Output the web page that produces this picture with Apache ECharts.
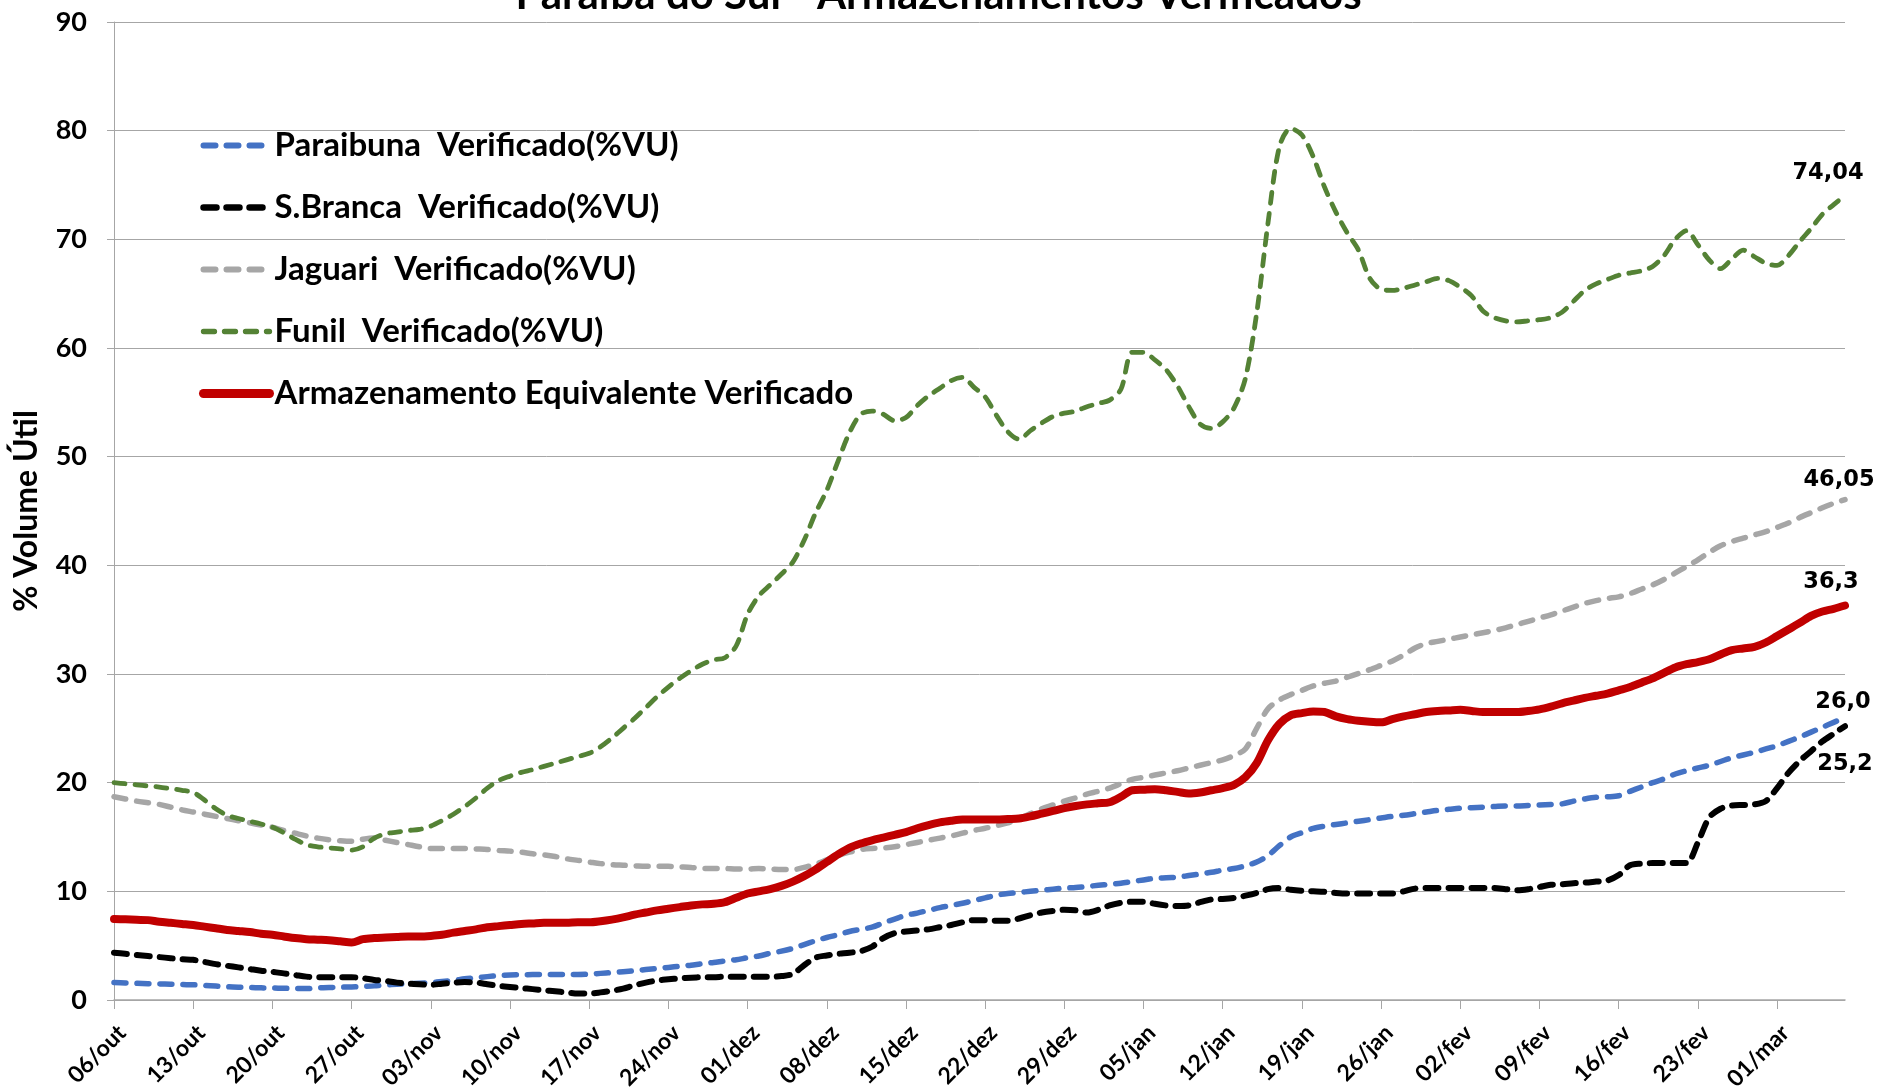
<!DOCTYPE html>
<html>
<head>
<meta charset="utf-8">
<script src="https://cdn.jsdelivr.net/npm/echarts@6/dist/echarts.min.js"></script>
<style>
html,body{margin:0;padding:0;background:#fff;}
#chart{width:1877px;height:1087px;}
</style>
</head>
<body>
<div id="chart"></div>
<script>
// ---- Data (daily, 06/out/2015 .. 07/mar/2016) ----
const startDate = [2015, 9, 6]; // year, month index (0-based), day
const nDays = 154;
const monthNames = ['jan','fev','mar','abr','mai','jun','jul','ago','set','out','nov','dez'];

const seriesNames = [
  'Paraibuna  Verificado(%VU)',
  'S.Branca  Verificado(%VU)',
  'Jaguari  Verificado(%VU)',
  'Funil  Verificado(%VU)',
  'Armazenamento Equivalente Verificado'
];

const paraibuna = [
  1.6, 1.57, 1.54, 1.5, 1.48, 1.45, 1.42,
  1.4, 1.35, 1.28, 1.22, 1.18, 1.15, 1.12,
  1.1, 1.08, 1.05, 1.05, 1.12, 1.15, 1.18,
  1.2, 1.25, 1.3, 1.38, 1.45, 1.5, 1.55,
  1.6, 1.7, 1.8, 1.95, 2.05, 2.15, 2.25,
  2.3, 2.32, 2.34, 2.35, 2.35, 2.35, 2.35,
  2.38, 2.45, 2.52, 2.6, 2.7, 2.8, 2.9,
  3.0, 3.1, 3.2, 3.35, 3.45, 3.6, 3.7,
  3.9, 4.05, 4.3, 4.5, 4.75, 5.1, 5.45,
  5.75, 6.0, 6.3, 6.5, 6.7, 7.1, 7.45,
  7.8, 8.0, 8.25, 8.5, 8.7, 8.9, 9.15,
  9.4, 9.65, 9.8, 9.9, 10.0, 10.1, 10.2,
  10.3, 10.35, 10.45, 10.55, 10.65, 10.75, 10.9,
  11.05, 11.2, 11.25, 11.3, 11.45, 11.6, 11.75,
  11.95, 12.1, 12.35, 12.7, 13.3, 14.2, 15.0,
  15.4, 15.8, 16.0, 16.15, 16.3, 16.45, 16.6,
  16.75, 16.9, 17.0, 17.15, 17.3, 17.45, 17.55,
  17.65, 17.7, 17.75, 17.8, 17.85, 17.85, 17.9,
  17.95, 18.0, 18.05, 18.3, 18.5, 18.65, 18.7,
  18.8, 19.2, 19.6, 20.0, 20.35, 20.8, 21.1,
  21.35, 21.6, 21.95, 22.3, 22.55, 22.8, 23.1,
  23.4, 23.8, 24.2, 24.65, 25.1, 25.55, 26.0
];

const sBranca = [
  4.35, 4.25, 4.15, 4.05, 3.95, 3.85, 3.75,
  3.7, 3.5, 3.3, 3.15, 3.0, 2.85, 2.7,
  2.6, 2.45, 2.3, 2.15, 2.1, 2.1, 2.1,
  2.1, 2.0, 1.85, 1.75, 1.6, 1.5, 1.45,
  1.4, 1.5, 1.6, 1.65, 1.6, 1.45, 1.3,
  1.2, 1.1, 1.0, 0.9, 0.8, 0.7, 0.6,
  0.6, 0.7, 0.85, 1.05, 1.35, 1.6, 1.8,
  1.9, 2.0, 2.05, 2.1, 2.1, 2.15, 2.15,
  2.15, 2.15, 2.15, 2.2, 2.4, 3.2, 3.9,
  4.1, 4.25, 4.35, 4.5, 4.9, 5.7, 6.15,
  6.3, 6.4, 6.5, 6.7, 6.9, 7.15, 7.35,
  7.35, 7.3, 7.3, 7.5, 7.8, 8.05, 8.2,
  8.3, 8.25, 8.05, 8.3, 8.7, 8.95, 9.05,
  9.05, 8.85, 8.7, 8.65, 8.7, 9.0, 9.25,
  9.3, 9.4, 9.6, 9.85, 10.2, 10.3, 10.15,
  10.05, 10.0, 9.95, 9.85, 9.8, 9.8, 9.8,
  9.8, 9.8, 10.0, 10.25, 10.3, 10.3, 10.3,
  10.3, 10.3, 10.3, 10.3, 10.2, 10.1, 10.2,
  10.4, 10.6, 10.65, 10.75, 10.8, 10.9, 11.0,
  11.5, 12.4, 12.55, 12.6, 12.6, 12.6, 12.6,
  14.5, 16.8, 17.6, 17.9, 17.95, 18.0, 18.3,
  19.5, 20.9, 22.0, 22.9, 23.8, 24.5, 25.2
];

const jaguari = [
  18.7, 18.5, 18.3, 18.15, 18.0, 17.75, 17.5,
  17.3, 17.1, 16.9, 16.7, 16.5, 16.3, 16.1,
  15.9, 15.6, 15.35, 15.1, 14.9, 14.75, 14.65,
  14.6, 14.8, 14.9, 14.7, 14.5, 14.3, 14.1,
  13.95, 13.95, 13.95, 13.95, 13.9, 13.85, 13.75,
  13.7, 13.6, 13.45, 13.35, 13.2, 13.0, 12.85,
  12.7, 12.55, 12.45, 12.4, 12.35, 12.3, 12.3,
  12.3, 12.25, 12.2, 12.1, 12.1, 12.1, 12.05,
  12.05, 12.1, 12.05, 12.0, 12.0, 12.2, 12.5,
  12.9, 13.3, 13.6, 13.85, 13.95, 14.0, 14.1,
  14.3, 14.5, 14.7, 14.9, 15.1, 15.35, 15.6,
  15.8, 16.05, 16.3, 16.7, 17.15, 17.6, 17.95,
  18.3, 18.6, 18.95, 19.2, 19.5, 19.9, 20.3,
  20.5, 20.7, 20.9, 21.1, 21.35, 21.6, 21.85,
  22.1, 22.5, 23.1, 25.0, 26.8, 27.6, 28.1,
  28.5, 28.9, 29.15, 29.35, 29.7, 30.05, 30.4,
  30.8, 31.2, 31.75, 32.4, 32.8, 33.0, 33.2,
  33.4, 33.6, 33.8, 34.0, 34.25, 34.55, 34.85,
  35.15, 35.45, 35.8, 36.15, 36.5, 36.75, 36.95,
  37.1, 37.4, 37.8, 38.2, 38.7, 39.3, 39.9,
  40.5, 41.2, 41.8, 42.2, 42.5, 42.8, 43.1,
  43.5, 43.9, 44.4, 44.85, 45.3, 45.7, 46.05
];

const funil = [
  20.0, 19.9, 19.8, 19.7, 19.6, 19.45, 19.3,
  19.1, 18.4, 17.6, 17.0, 16.7, 16.45, 16.2,
  15.9, 15.4, 14.8, 14.3, 14.1, 14.0, 13.9,
  13.8, 14.1, 14.9, 15.3, 15.45, 15.6, 15.7,
  16.0, 16.5, 17.1, 17.8, 18.6, 19.5, 20.2,
  20.6, 20.95, 21.2, 21.5, 21.8, 22.1, 22.4,
  22.7, 23.3, 24.1, 25.0, 25.9, 26.9, 27.9,
  28.8, 29.6, 30.3, 30.9, 31.3, 31.5, 32.6,
  35.5, 37.2, 38.2, 39.2, 40.3, 42.3, 44.8,
  46.9, 49.6, 52.2, 53.9, 54.2, 53.9, 53.3,
  53.6, 54.7, 55.6, 56.3, 57.0, 57.3, 56.4,
  55.5, 53.8, 52.3, 51.6, 52.4, 53.1, 53.7,
  54.0, 54.2, 54.6, 54.9, 55.2, 56.2, 59.6,
  59.6, 58.9, 58.0, 56.5, 54.6, 53.0, 52.6,
  53.2, 54.5, 57.2, 63.2, 71.5, 78.5, 80.2,
  79.6, 77.6, 74.8, 72.5, 70.6, 69.0, 66.4,
  65.4, 65.3, 65.5, 65.8, 66.1, 66.4, 66.2,
  65.6, 64.8, 63.4, 62.8, 62.5, 62.4, 62.5,
  62.6, 62.8, 63.3, 64.3, 65.3, 65.9, 66.3,
  66.7, 66.9, 67.1, 67.5, 68.5, 70.0, 70.8,
  69.5, 68.1, 67.3, 68.2, 69.0, 68.4, 67.8,
  67.6, 68.5, 69.8, 71.0, 72.3, 73.2, 74.04
];

const armazenamento = [
  7.45, 7.42, 7.38, 7.35, 7.2, 7.1, 7.0,
  6.9, 6.75, 6.6, 6.45, 6.35, 6.25, 6.1,
  6.0, 5.85, 5.7, 5.6, 5.55, 5.5, 5.4,
  5.3, 5.6, 5.7, 5.75, 5.8, 5.85, 5.85,
  5.9, 6.0, 6.2, 6.35, 6.5, 6.7, 6.8,
  6.9, 7.0, 7.05, 7.1, 7.1, 7.1, 7.15,
  7.15, 7.25, 7.4, 7.6, 7.85, 8.05, 8.25,
  8.4, 8.55, 8.7, 8.8, 8.85, 9.0, 9.4,
  9.8, 10.0, 10.2, 10.5, 10.9, 11.4, 12.0,
  12.7, 13.4, 14.0, 14.4, 14.7, 14.95, 15.2,
  15.45, 15.8, 16.1, 16.35, 16.5, 16.6, 16.6,
  16.6, 16.6, 16.65, 16.7, 16.9, 17.15, 17.4,
  17.65, 17.85, 18.0, 18.1, 18.2, 18.7, 19.3,
  19.35, 19.4, 19.3, 19.15, 19.0, 19.1, 19.3,
  19.5, 19.8, 20.5, 21.8, 23.9, 25.4, 26.2,
  26.4, 26.55, 26.5, 26.1, 25.85, 25.7, 25.6,
  25.55, 25.85, 26.1, 26.3, 26.5, 26.6, 26.65,
  26.7, 26.6, 26.5, 26.5, 26.5, 26.5, 26.6,
  26.75, 27.0, 27.3, 27.55, 27.8, 28.0, 28.2,
  28.5, 28.8, 29.2, 29.6, 30.1, 30.6, 30.9,
  31.1, 31.35, 31.8, 32.2, 32.35, 32.5, 32.9,
  33.5, 34.1, 34.7, 35.35, 35.75, 36.0, 36.3
];

const endLabels = ['26,0', '25,2', '46,05', '74,04', '36,3'];

function makeCategories() {
  const out = [];
  for (let i = 0; i < nDays; i++) {
    const d = new Date(Date.UTC(startDate[0], startDate[1], startDate[2] + i));
    const dd = String(d.getUTCDate()).padStart(2, '0');
    out.push(dd + '/' + monthNames[d.getUTCMonth()]);
  }
  return out;
}
const categories = makeCategories();

// ---- Styles ----
const colors = ['#4472C4', '#000000', '#A6A6A6', '#548235', '#C00000'];
const widths = [5.5, 6, 5.5, 4.8, 8];
const dashes = [[12, 11], [13, 10], [12, 11], [11, 10], 'solid'];
const labelPos = [
  { position: 'top', offset: [-2, 2] },
  { position: 'bottom', offset: [0, 20] },
  { position: 'top', offset: [-6, -2] },
  { position: 'top', offset: [-17, -5] },
  { position: 'top', offset: [-14, -6] }
];
const allData = [paraibuna, sBranca, jaguari, funil, armazenamento];

const series = allData.map((arr, si) => {
  const last = arr.length - 1;
  return {
    name: seriesNames[si],
    type: 'line',
    data: arr,
    symbol: 'none',
    smooth: 0.3,
    color: colors[si],
    lineStyle: {
      color: colors[si],
      width: widths[si],
      type: dashes[si],
      cap: 'round',
      join: 'round'
    },
    emphasis: { disabled: true },
    animation: false,
    z: 2 + si,
    markPoint: {
      silent: true,
      animation: false,
      symbol: 'circle',
      symbolSize: 2,
      itemStyle: { color: 'rgba(0,0,0,0)' },
      label: Object.assign({
        show: true,
        formatter: endLabels[si],
        fontFamily: 'DejaVu Sans',
        fontWeight: 'bold',
        fontSize: 22.5,
        color: '#000'
      }, labelPos[si]),
      data: [{ coord: [categories[last], arr[last]] }]
    }
  };
});

const legendData = seriesNames.map((n, si) => ({
  name: n,
  itemStyle: { opacity: 0 },
  lineStyle: {
    color: colors[si],
    width: si === 4 ? 9 : widths[si] + 0.5,
    type: dashes[si],
    cap: 'round'
  }
}));

const chart = echarts.init(document.getElementById('chart'), null, { renderer: 'canvas' });
chart.setOption({
  backgroundColor: '#ffffff',
  animation: false,
  title: {
    text: 'Paraíba do Sul - Armazenamentos Verificados',
    left: 'center',
    top: -31,
    textStyle: { fontFamily: 'Lato', fontWeight: 'bold', fontSize: 42, color: '#000' }
  },
  grid: { left: 114, right: 32, top: 22, bottom: 87, containLabel: false, outerBoundsMode: 'none' },
  legend: {
    orient: 'vertical',
    left: 199,
    top: 129,
    padding: 0,
    itemWidth: 66,
    itemHeight: 30,
    itemGap: 29,
    textStyle: { fontFamily: 'Lato', fontWeight: 'bold', fontSize: 33, color: '#000' },
    data: legendData
  },
  xAxis: {
    type: 'category',
    data: categories,
    boundaryGap: false,
    axisLine: { lineStyle: { color: '#A6A6A6', width: 1.5 } },
    axisTick: { show: true, interval: 6, length: 9, lineStyle: { color: '#A6A6A6', width: 1 } },
    axisLabel: {
      interval: 6,
      rotate: 45,
      margin: 21,
      verticalAlign: 'top',
      fontFamily: 'Lato',
      fontWeight: 'bold',
      fontSize: 23,
      color: '#000'
    },
    splitLine: { show: false }
  },
  yAxis: {
    type: 'value',
    min: 0,
    max: 90,
    interval: 10,
    name: '% Volume Útil',
    nameLocation: 'middle',
    nameRotate: 90,
    nameGap: 71,
    nameTextStyle: { fontFamily: 'Lato', fontWeight: 'bold', fontSize: 32, color: '#000' },
    axisLine: { show: true, lineStyle: { color: '#A6A6A6', width: 1 } },
    axisTick: { show: true, length: 7, lineStyle: { color: '#A6A6A6' } },
    axisLabel: { margin: 27, fontFamily: 'Lato', fontWeight: 'bold', fontSize: 27, color: '#000' },
    splitLine: { show: true, lineStyle: { color: '#A6A6A6', width: 1 } }
  },
  series: series
});
</script>
</body>
</html>
